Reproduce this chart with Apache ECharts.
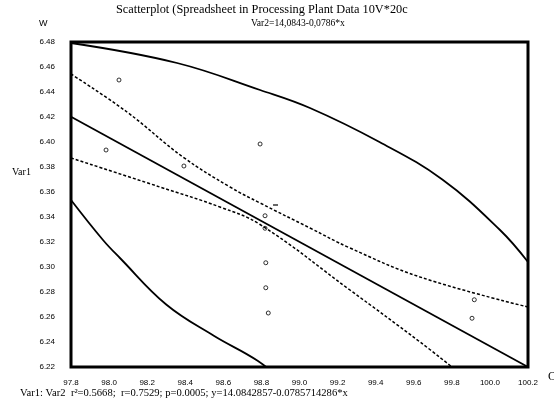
<!DOCTYPE html>
<html>
<head>
<meta charset="utf-8">
<script src="https://cdn.jsdelivr.net/npm/echarts@6/dist/echarts.min.js"></script>
<style>
html, body { margin: 0; padding: 0; background: #fff; }
#main { width: 554px; height: 407px; }
</style>
</head>
<body>
<div id="main"></div>
<script>
// axis ticks
const xTicks = [97.8, 98.0, 98.2, 98.4, 98.6, 98.8, 99.0, 99.2, 99.4, 99.6, 99.8, 100.0, 100.2];
const yTicks = [6.22, 6.24, 6.26, 6.28, 6.30, 6.32, 6.34, 6.36, 6.38, 6.40, 6.42, 6.44, 6.46, 6.48];

// observed cases (Var2, Var1)
const ptsX = [98.052, 97.984, 98.793, 98.393, 98.819, 98.819, 98.823, 98.823, 98.836, 99.918, 99.906];
const ptsY = [6.4496, 6.3936, 6.3984, 6.3808, 6.341, 6.331, 6.3034, 6.2834, 6.2632, 6.2738, 6.259];

// stray mark near the fit
const markX = [98.874];
const markY = [6.3496];

// regression line
const fitX = [97.8, 100.2];
const fitY = [6.4202, 6.22];

// confidence band (dashed)
const ciUpX = [97.8, 98.094, 98.388, 98.635, 98.793, 99.055, 99.265, 99.633, 100.2];
const ciUpY = [6.4544, 6.424, 6.388, 6.364, 6.3512, 6.3312, 6.3152, 6.292, 6.268];
const ciLoX = [97.8, 98.267, 98.582, 98.793, 99.265, 99.633, 99.801];
const ciLoY = [6.3872, 6.364, 6.348, 6.334, 6.2816, 6.24, 6.22];

// prediction band (solid)
const piUpX = [97.8, 98.357, 98.793, 99.055, 99.42, 99.75, 100.053, 100.2];
const piUpY = [6.4792, 6.4632, 6.4416, 6.4272, 6.4, 6.37, 6.3296, 6.304];
const piLoX = [97.8, 97.968, 98.057, 98.3, 98.55, 98.78, 98.9];
const piLoY = [6.3536, 6.3216, 6.3072, 6.27, 6.245, 6.225, 6.21];

function pairs(xs, ys) {
    return xs.map(function (x, i) { return [x, ys[i]]; });
}

var chart = echarts.init(document.getElementById('main'));

var serif = 'Liberation Serif';
var sans = 'Liberation Sans';

var option = {
    animation: false,
    backgroundColor: '#fff',
    grid: {
        left: 71, right: 26, top: 42, bottom: 40,
        show: true, borderColor: '#000', borderWidth: 3, backgroundColor: 'transparent'
    },
    xAxis: {
        type: 'value',
        min: xTicks[0], max: xTicks[xTicks.length - 1], interval: 0.2,
        axisLine: { show: false }, axisTick: { show: false }, splitLine: { show: false },
        axisLabel: {
            color: '#000', fontFamily: sans, fontSize: 8, margin: 12,
            formatter: function (v) { return v.toFixed(1); }
        }
    },
    yAxis: {
        type: 'value',
        min: yTicks[0], max: yTicks[yTicks.length - 1], interval: 0.02,
        axisLine: { show: false }, axisTick: { show: false }, splitLine: { show: false },
        axisLabel: {
            color: '#000', fontFamily: sans, fontSize: 8, margin: 16,
            formatter: function (v) { return v.toFixed(2); }
        }
    },
    graphic: [
        { type: 'text', left: 116, top: 4, style: { text: 'Scatterplot (Spreadsheet in Processing Plant Data 10V*20c', fontFamily: serif, fontSize: 12.3, fill: '#000' } },
        { type: 'text', left: 251, top: 18, style: { text: 'Var2=14,0843-0,0786*x', fontFamily: serif, fontSize: 9.6, fill: '#000' } },
        { type: 'text', left: 39, top: 19, style: { text: 'W', fontFamily: sans, fontSize: 9, fill: '#000' } },
        { type: 'text', left: 12, top: 167, style: { text: 'Var1', fontFamily: serif, fontSize: 10, fill: '#000' } },
        { type: 'text', left: 548, top: 371, style: { text: 'C', fontFamily: serif, fontSize: 12, fill: '#000' } },
        { type: 'text', left: 20, top: 388, style: { text: 'Var1: Var2  r\u00b2=0.5668;  r=0.7529; p=0.0005; y=14.0842857-0.0785714286*x', fontFamily: serif, fontSize: 10.6, fill: '#000' } }
    ],
    series: [
        {
            type: 'line', data: pairs(piUpX, piUpY), smooth: 0.4, symbol: 'none',
            lineStyle: { color: '#000', width: 1.8 }
        },
        {
            type: 'line', data: pairs(piLoX, piLoY), smooth: 0.4, symbol: 'none',
            lineStyle: { color: '#000', width: 1.8 }
        },
        {
            type: 'line', data: pairs(ciUpX, ciUpY), smooth: 0.4, symbol: 'none',
            lineStyle: { color: '#000', width: 1.5, type: [3, 2] }
        },
        {
            type: 'line', data: pairs(ciLoX, ciLoY), smooth: 0.4, symbol: 'none',
            lineStyle: { color: '#000', width: 1.5, type: [3, 2] }
        },
        {
            type: 'line', data: pairs(fitX, fitY), symbol: 'none',
            lineStyle: { color: '#000', width: 1.8 }
        },
        {
            type: 'scatter', data: pairs(ptsX, ptsY), symbol: 'circle', symbolSize: 4,
            itemStyle: { color: '#fff', borderColor: '#000', borderWidth: 1 }
        },
        {
            type: 'scatter', data: pairs(markX, markY), symbol: 'rect', symbolSize: [5, 1.5],
            itemStyle: { color: '#000' }
        }
    ]
};

chart.setOption(option);
</script>
</body>
</html>
